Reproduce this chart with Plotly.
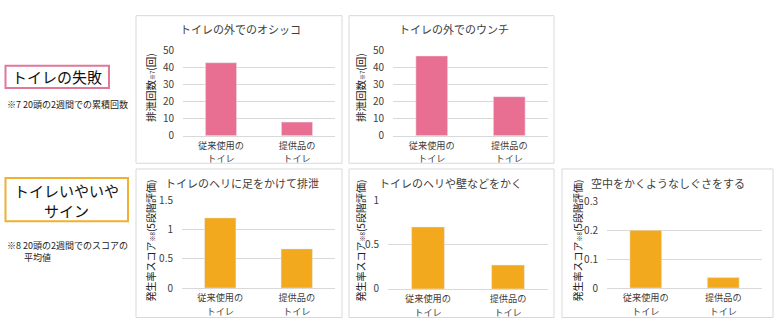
import plotly.graph_objects as go

W, H = 784, 335

categories = ["従来使用の<br>トイレ", "提供品の<br>トイレ"]
titles = ["トイレの外でのオシッコ", "トイレの外でのウンチ",
          "トイレのヘリに足をかけて排泄", "トイレのヘリや壁などをかく",
          "空中をかくようなしぐさをする"]
ytitle_count = "排泄回数<span style='font-size:6px'>※7</span>(回)"
ytitle_score = "発生率スコア<span style='font-size:6px'>※8</span>(5段階評価)"
values_pee = [43, 8]
values_poo = [47, 23]
values_edge_foot = [1.2, 0.67]
values_scratch_wall = [0.70, 0.27]
values_air_scratch = [0.2, 0.036]
series = [values_pee, values_poo, values_edge_foot, values_scratch_wall, values_air_scratch]
y_ranges = [[0, 50], [0, 50], [0, 1.5], [0, 1.0], [0, 0.3]]
y_dticks = [10, 10, 0.5, 0.5, 0.1]

PINK = "#E96F92"
ORANGE = "#F2A91E"
colors = [PINK, PINK, ORANGE, ORANGE, ORANGE]

# plot areas in pixels: (left, right, top, bottom)
areas = [(183, 335, 44, 133), (393, 548, 44, 133),
         (182, 335, 201, 293), (388, 548, 201, 294), (607, 762, 202, 293)]
panels = [(136, 342, 7, 162), (349, 554, 7, 162),
          (136, 342, 168, 324), (349, 554, 168, 324), (562, 773, 168, 324)]
title_pos = [(240, 21), (454, 21), (242, 183), (450, 183), (668, 183)]
ytitle_x = [150, 360, 150, 360, 577]


def fx(x):
    return x / W


def fy(y):
    return 1 - y / H


def tick_text(label):
    # smaller glyphs inside a wider line pitch so both lines keep clear of each other
    return "<br>".join("<span style='font-size:9.2px'>%s</span>" % p for p in label.split("<br>"))


fig = go.Figure()
FONT = "Noto Sans CJK JP"
annotations = []
shapes = []


def ann(text, x, y, size, color="#222222", xanchor="center", yanchor="middle", angle=0):
    annotations.append(dict(text=text, x=fx(x), y=fy(y), xref="paper", yref="paper",
                            showarrow=False, xanchor=xanchor, yanchor=yanchor,
                            textangle=angle,
                            font=dict(size=size, color=color, family=FONT)))


for i in range(5):
    l, r, t, b = areas[i]
    n = "" if i == 0 else str(i + 1)
    fig.add_trace(go.Bar(x=categories, y=series[i], marker_color=colors[i],
                         xaxis="x" + n, yaxis="y" + n, showlegend=False,
                         width=0.41))
    fig.update_layout(**{
        "xaxis" + n: dict(domain=[fx(l), fx(r)], anchor="y" + n,
                          type="category", showgrid=False, showline=True,
                          linecolor="#D9D9D9", ticks="",
                          tickvals=categories,
                          ticktext=[tick_text(c) for c in categories],
                          tickfont=dict(size=10.3, color="#404040", family=FONT),
                          fixedrange=True),
        "yaxis" + n: dict(domain=[fy(b), fy(t)], anchor="x" + n,
                          range=y_ranges[i], dtick=y_dticks[i],
                          showgrid=True, gridcolor="#D9D9D9", zeroline=False,
                          showline=False, ticks="",
                          ticklabelstandoff=8,
                          tickfont=dict(size=10, color="#404040", family=FONT),
                          fixedrange=True),
    })
    pl, pr, pt, pb = panels[i]
    shapes.append(dict(type="rect", xref="paper", yref="paper",
                       x0=fx(pl), x1=fx(pr), y0=fy(pb), y1=fy(pt),
                       line=dict(color="#D9D9D9", width=1), layer="below"))
    tx, ty = title_pos[i]
    ann(titles[i], tx, ty, 11, "#404040")

# axis titles
for i in range(5):
    if i < 2:
        ann(ytitle_count, ytitle_x[i], 83, 10.5, "#222222", angle=-90)
    else:
        ann(ytitle_score, ytitle_x[i], 243, 10, "#222222", angle=-90)

# left side labels
shapes.append(dict(type="rect", xref="paper", yref="paper",
                   x0=fx(5.5), x1=fx(109), y0=fy(83), y1=fy(59.5),
                   line=dict(color="#E07898", width=2)))
shapes.append(dict(type="rect", xref="paper", yref="paper",
                   x0=fx(5.5), x1=fx(128), y0=fy(223), y1=fy(177.5),
                   line=dict(color="#F0B030", width=2)))
ann("トイレの失敗", 57, 71, 15, "#111111")
ann("トイレいやいや<br>サイン", 66, 201, 15, "#111111")
ann("※7 20頭の2週間での累積回数", 5, 100, 9, xanchor="left")
ann("※8 20頭の2週間でのスコアの", 5, 248, 9, xanchor="left")
ann("平均値", 22, 261, 9, xanchor="left")

fig.update_layout(width=W, height=H, margin=dict(l=0, r=0, t=0, b=0),
                  paper_bgcolor="white", plot_bgcolor="white",
                  annotations=annotations, shapes=shapes,
                  font=dict(family=FONT))

fig.write_html("out.html")
